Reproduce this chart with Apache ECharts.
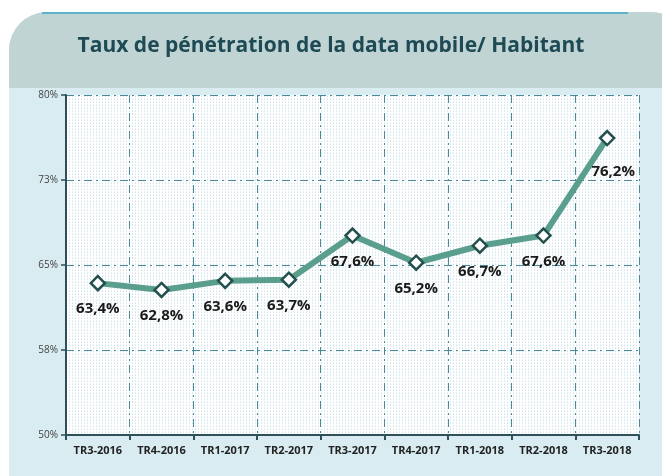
<!DOCTYPE html>
<html>
<head>
<meta charset="utf-8">
<script src="https://cdn.jsdelivr.net/npm/echarts@6/dist/echarts.min.js"></script>
<style>
  html, body { margin: 0; padding: 0; background: #fff; }
  #chart { width: 662px; height: 476px; }
</style>
</head>
<body>
<div id="chart"></div>
<script>
// données
const quarters = ['TR3-2016', 'TR4-2016', 'TR1-2017', 'TR2-2017', 'TR3-2017', 'TR4-2017', 'TR1-2018', 'TR2-2018', 'TR3-2018'];
const penetration = [63.4, 62.8, 63.6, 63.7, 67.6, 65.2, 66.7, 67.6, 76.2];
const yTicks = [50, 57.5, 65, 72.5, 80];

const titleText = 'Taux de pénétration de la data mobile/ Habitant';
const font = '"Open Sans", "Noto Sans", sans-serif';

// petit motif pointillé pour le fond du graphique
function dotPattern() {
    let c = document.createElement('canvas');
    c.width = 3;
    c.height = 3;
    let ctx = c.getContext('2d');
    ctx.fillStyle = '#ffffff';
    ctx.fillRect(0, 0, 3, 3);
    ctx.fillStyle = 'rgba(150,195,210,0.45)';
    ctx.fillRect(0, 0, 1, 1);
    ctx.fillStyle = 'rgba(150,195,210,0.25)';
    ctx.fillRect(0, 2, 1, 1);
    return c;
}

let chartDom = document.getElementById('chart');
let myChart = echarts.init(chartDom);

let seriesData = penetration.map(function (v, i) {
    let item = { value: v };
    if (i === penetration.length - 1) {
        item.label = { position: 'bottom', distance: 18, offset: [6, 0] };
    }
    return item;
});

const option = {
    animation: false,
    backgroundColor: '#ffffff',
    graphic: [
        {
            type: 'rect',
            z: -10,
            shape: { x: 9, y: 12, width: 680, height: 500, r: 38 },
            style: { fill: '#d9ecf2' }
        },
        {
            type: 'rect',
            z: -9,
            shape: { x: 9, y: 12, width: 680, height: 76, r: [38, 38, 0, 0] },
            style: { fill: '#c1d4d4' }
        },
        {
            type: 'line',
            z: -8,
            shape: { x1: 42, y1: 13, x2: 628, y2: 13 },
            style: { stroke: '#5fb3c8', lineWidth: 2 }
        },
        {
            type: 'text',
            z: 10,
            left: 'center',
            top: 36,
            style: {
                text: titleText,
                fill: '#1e4a55',
                font: 'bold 21px ' + font
            }
        }
    ],
    grid: {
        left: 66,
        right: 23,
        top: 95,
        bottom: 41,
        show: true,
        borderWidth: 0,
        backgroundColor: { image: dotPattern(), repeat: 'repeat' }
    },
    xAxis: {
        type: 'category',
        data: quarters,
        boundaryGap: true,
        axisLine: { lineStyle: { color: '#2f4f5a', width: 2 } },
        axisTick: { show: true, length: 5, lineStyle: { color: '#2f4f5a', width: 2 } },
        axisLabel: {
            color: '#222',
            fontFamily: font,
            fontWeight: 'bold',
            fontSize: 11,
            margin: 10
        },
        splitLine: {
            show: true,
            lineStyle: { color: '#4b8a9b', width: 1, type: [8, 4, 2, 4] }
        }
    },
    yAxis: {
        type: 'value',
        min: 50,
        max: 80,
        axisLine: { show: true, lineStyle: { color: '#2f4f5a', width: 2 } },
        axisTick: { show: true, length: 5, customValues: yTicks, lineStyle: { color: '#2f4f5a', width: 1.5 } },
        axisLabel: {
            customValues: yTicks,
            color: '#444',
            fontFamily: font,
            fontSize: 10,
            margin: 8,
            formatter: function (v) { return Math.round(v) + '%'; }
        },
        splitLine: {
            show: true,
            lineStyle: { color: '#4b8a9b', width: 1, type: [8, 4, 2, 4] }
        }
    },
    series: [
        {
            name: 'Taux',
            type: 'line',
            data: seriesData,
            symbol: 'diamond',
            symbolSize: 14,
            lineStyle: { color: '#5a9e8d', width: 6 },
            itemStyle: { color: '#ffffff', borderColor: '#234f4f', borderWidth: 2.5 },
            label: {
                show: true,
                position: 'bottom',
                distance: 10,
                color: '#1a1a1a',
                fontFamily: font,
                fontWeight: 'bold',
                fontSize: 15,
                formatter: function (p) {
                    return p.value.toFixed(1).replace('.', ',') + '%';
                }
            },
            z: 5
        }
    ]
};

myChart.setOption(option);
</script>
</body>
</html>
